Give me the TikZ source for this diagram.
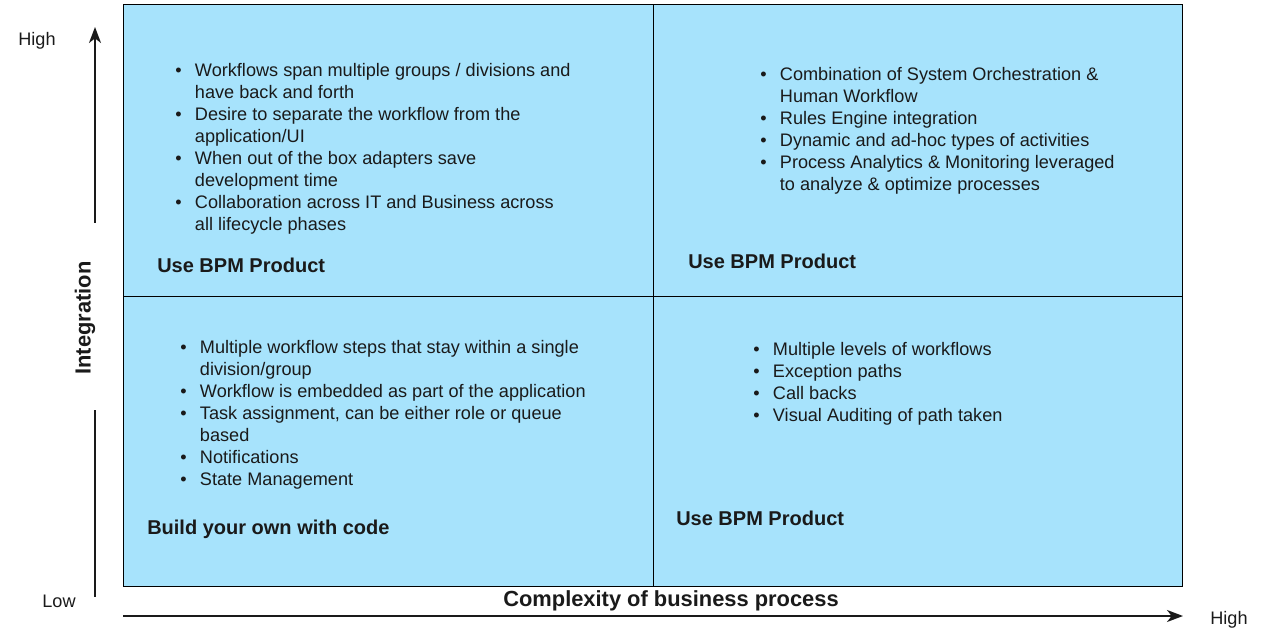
\documentclass[tikz,border=0pt]{standalone}
\usepackage{fontspec}
\setmainfont{Liberation Sans}
\usetikzlibrary{arrows.meta}
\definecolor{quadfill}{HTML}{A7E3FC}
\definecolor{ink}{HTML}{1A1A1A}

\begin{document}
\begin{tikzpicture}[x=0.75pt, y=-0.75pt, >={Stealth[length=12pt, width=9pt, inset=3.5pt]},
  every node/.style={font=\fontsize{13.6}{16.5}\selectfont, text=ink, inner sep=0pt},
  quad/.style={draw=black, fill=quadfill, line width=0.75pt},
  head/.style={font=\fontsize{15}{16}\selectfont\bfseries, anchor=west},
  axisname/.style={font=\fontsize{16.4}{18}\selectfont\bfseries},
  list/.style={anchor=north west, align=left},
  axis/.style={line width=1.5pt, draw=ink}]
\useasboundingbox (0,0) rectangle (1271,631);

% four quadrants
\draw[quad] (123,5) rectangle (653,296);
\draw[quad] (653,5) rectangle (1182,296);
\draw[quad] (123,296) rectangle (653,586);
\draw[quad] (653,296) rectangle (1182,586);

% top left
\node[list] (tlList) at (175,61) {\begin{tabular}{@{}l@{\hspace{10pt}}l@{}}
\textbullet & Workflows span multiple groups / divisions and\\
 & have back and forth\\
\textbullet & Desire to separate the workflow from the\\
 & application/UI\\
\textbullet & When out of the box adapters save\\
 & development time\\
\textbullet & Collaboration across IT and Business across\\
 & all lifecycle phases
\end{tabular}};
\node[head] (tlHead) at (157,265) {Use BPM Product};

% top right
\node[list] (trList) at (760,65) {\begin{tabular}{@{}l@{\hspace{10pt}}l@{}}
\textbullet & Combination of System Orchestration \&\\
 & Human Workflow\\
\textbullet & Rules Engine integration\\
\textbullet & Dynamic and ad-hoc types of activities\\
\textbullet & Process Analytics \& Monitoring leveraged\\
 & to analyze \& optimize processes
\end{tabular}};
\node[head] (trHead) at (688,261) {Use BPM Product};

% bottom left
\node[list] (blList) at (180,338) {\begin{tabular}{@{}l@{\hspace{10pt}}l@{}}
\textbullet & Multiple workflow steps that stay within a single\\
 & division/group\\
\textbullet & Workflow is embedded as part of the application\\
\textbullet & Task assignment, can be either role or queue\\
 & based\\
\textbullet & Notifications\\
\textbullet & State Management
\end{tabular}};
\node[head] (blHead) at (147,529) {Build your own with code};

% bottom right
\node[list] (brList) at (753,340) {\begin{tabular}{@{}l@{\hspace{10pt}}l@{}}
\textbullet & Multiple levels of workflows\\
\textbullet & Exception paths\\
\textbullet & Call backs\\
\textbullet & Visual Auditing of path taken
\end{tabular}};
\node[head] (brHead) at (676,518) {Use BPM Product};

% axes
\coordinate (yTop) at (95,27);
\coordinate (yUp) at (95,223);
\coordinate (yDown) at (95,410);
\coordinate (yLow) at (95,597);
\coordinate (xLeft) at (123,616);
\coordinate (xRight) at (1183,616);
\draw[axis, ->] (yUp) -- (yTop);
\draw[axis] (yDown) -- (yLow);
\draw[axis, ->] (xLeft) -- (xRight);

\node (yHigh) at (37,41) {High};
\node (yLowLbl) at (59,601) {Low};
\node (xHigh) at (1229,620) {High};
\node[axisname, rotate=90] (yName) at (85,318) {Integration};
\node[axisname] (xName) at (671,601) {Complexity of business process};
\end{tikzpicture}
\end{document}
